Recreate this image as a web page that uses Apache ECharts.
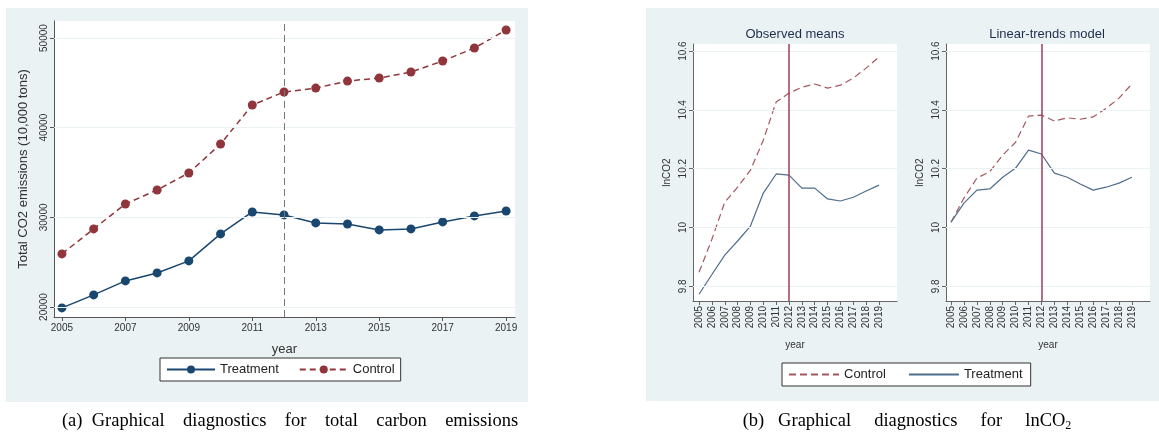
<!DOCTYPE html>
<html>
<head>
<meta charset="utf-8">
<script src="https://cdn.jsdelivr.net/npm/echarts@6/dist/echarts.min.js"></script>
<style>
html,body{margin:0;padding:0;background:#fff;}
#chart{width:1159px;height:432px;}
</style>
</head>
<body>
<div id="chart"></div>
<script>
// ---- data ----
const years = [2005,2006,2007,2008,2009,2010,2011,2012,2013,2014,2015,2016,2017,2018,2019];
const leftXTicks = [2005,2007,2009,2011,2013,2015,2017,2019];
const leftYTicks = [20000,30000,40000,50000];
const rightYTicks = [9.8,10,10.2,10.4,10.6];
const treatYear = 2012;

const totalTreatment = [19900,21350,22910,23800,25140,28150,30600,30270,29380,29260,28600,28710,29490,30160,30710];
const totalControl   = [25920,28710,31490,33055,34950,38180,42530,43980,44420,45200,45540,46210,47440,48890,50890];

const obsControl   = [9.848,9.960,10.086,10.137,10.195,10.297,10.427,10.457,10.477,10.488,10.474,10.484,10.508,10.542,10.580];
const obsTreatment = [9.773,9.840,9.906,9.954,10.005,10.117,10.182,10.178,10.134,10.134,10.097,10.090,10.103,10.124,10.144];

const ltControl    = [10.018,10.100,10.168,10.190,10.246,10.290,10.379,10.382,10.362,10.373,10.368,10.376,10.405,10.440,10.488];
const ltTreatment  = [10.018,10.083,10.127,10.131,10.171,10.202,10.263,10.250,10.185,10.171,10.148,10.127,10.137,10.151,10.171];

const pair = arr => years.map((y,i)=>[y,arr[i]]);
const plain = v => String(v);

const BG = '#eaf2f3';
const NAVY = '#1a476f';
const MAROON = '#90353b';
const LCTRL = '#a3585e';
const LTREAT = '#4f6d8c';
const VLINE = '#a33c58';
const FONT = 'Liberation Sans, Arial, sans-serif';
const SERIF = '"Liberation Serif", "Times New Roman", serif';

const chart = echarts.init(document.getElementById('chart'), null, {renderer:'canvas'});

function gridLines(ticks){
  return {
    silent:true, symbol:'none', animation:false,
    label:{show:false},
    lineStyle:{color:BG, type:'solid', width:1},
    data: ticks.map(v=>({yAxis:v}))
  };
}

function rightYAxis(gridIndex){
  return {
    type:'value', gridIndex, min:9.75, max:10.624,
    axisLine:{show:true, lineStyle:{color:'#666', width:1}},
    axisTick:{show:true, length:4, lineStyle:{color:'#666'}, customValues:rightYTicks},
    axisLabel:{show:true, rotate:90, fontSize:10, color:'#333', margin:5, fontFamily:FONT, customValues:rightYTicks, formatter:plain},
    splitLine:{show:false},
    name:'lnCO2', nameLocation:'middle', nameGap:21, nameRotate:90,
    nameTextStyle:{fontSize:10, color:'#333', fontFamily:FONT}
  };
}
function rightXAxis(gridIndex, min){
  return {
    type:'value', gridIndex, min:min, max:2020.4,
    axisLine:{show:true, onZero:false, lineStyle:{color:'#666', width:1}},
    axisTick:{show:true, length:4, lineStyle:{color:'#666'}, customValues:years},
    axisLabel:{show:true, rotate:90, fontSize:10, color:'#333', margin:5, fontFamily:FONT, customValues:years, formatter:plain},
    splitLine:{show:false},
    name:'year', nameLocation:'middle', nameGap:39,
    nameTextStyle:{fontSize:10, color:'#333', fontFamily:FONT}
  };
}

const option = {
  animation:false,
  backgroundColor:'#fff',
  graphic:[
    {type:'rect', z:-10, shape:{x:6,y:8,width:522,height:394}, style:{fill:BG}},
    {type:'rect', z:-10, shape:{x:646,y:8,width:513,height:393}, style:{fill:BG}},
    {type:'text', x:290, y:421, style:{text:'(a)  Graphical    diagnostics    for    total    carbon    emissions', font:'18.5px '+SERIF, fill:'#000', textAlign:'center', textVerticalAlign:'middle'}},
    {type:'text', x:907, y:421, style:{
      text:'(b)   Graphical     diagnostics     for     lnCO{s|2}',
      font:'18.5px '+SERIF, fill:'#000', align:'center', verticalAlign:'middle',
      rich:{s:{fontSize:12, fontFamily:'Liberation Serif', padding:[10,0,0,0], fill:'#000'}}
    }},
    {type:'text', x:795, y:34, style:{text:'Observed means', font:'13px '+FONT, fill:'#1e2d4e', textAlign:'center', textVerticalAlign:'middle'}},
    {type:'text', x:1047, y:34, style:{text:'Linear-trends model', font:'13px '+FONT, fill:'#1e2d4e', textAlign:'center', textVerticalAlign:'middle'}}
  ],
  legend:[
    {
      left:160, top:358, width:250,
      data:['Treatment','Control'],
      backgroundColor:'#fff', borderColor:'#333', borderWidth:1, borderRadius:0,
      padding:[5,6,5,6], itemWidth:48, itemHeight:10, itemGap:20,
      textStyle:{fontSize:13, color:'#222', fontFamily:FONT},
      selectedMode:false
    },
    {
      left:782, top:363, width:250,
      data:['Control (ln)','Treatment (ln)'],
      formatter: n => n.replace(' (ln)',''),
      backgroundColor:'#fff', borderColor:'#333', borderWidth:1, borderRadius:0,
      padding:[5,8,5,6], itemWidth:50, itemHeight:10, itemGap:22,
      itemStyle:{opacity:0},
      textStyle:{fontSize:13, color:'#222', fontFamily:FONT},
      selectedMode:false
    }
  ],
  grid:[
    {left:54, top:21, width:461, height:296, show:true, backgroundColor:'#fff', borderWidth:0},
    {left:693, top:44, width:204, height:257, show:true, backgroundColor:'#fff', borderWidth:0},
    {left:946, top:44, width:204, height:257, show:true, backgroundColor:'#fff', borderWidth:0}
  ],
  xAxis:[
    {
      type:'value', gridIndex:0, min:2004.75, max:2019.28,
      axisLine:{show:true, onZero:false, lineStyle:{color:'#555', width:1}},
      axisTick:{show:true, length:4, lineStyle:{color:'#555'}, customValues:leftXTicks},
      axisLabel:{show:true, fontSize:10, color:'#333', margin:6, fontFamily:FONT, customValues:leftXTicks, formatter:plain},
      splitLine:{show:false},
      name:'year', nameLocation:'middle', nameGap:26,
      nameTextStyle:{fontSize:13, color:'#333', fontFamily:FONT}
    },
    rightXAxis(1, 2004.53),
    rightXAxis(2, 2004.61)
  ],
  yAxis:[
    {
      type:'value', gridIndex:0, min:18885, max:51900,
      axisLine:{show:true, lineStyle:{color:'#555', width:1}},
      axisTick:{show:true, length:4, lineStyle:{color:'#555'}, customValues:leftYTicks},
      axisLabel:{show:true, rotate:90, fontSize:10, color:'#333', margin:5, fontFamily:FONT, customValues:leftYTicks, formatter:plain},
      splitLine:{show:false},
      name:'Total CO2 emissions (10,000 tons)', nameLocation:'middle', nameGap:24, nameRotate:90,
      nameTextStyle:{fontSize:13, color:'#333', fontFamily:FONT}
    },
    rightYAxis(1),
    rightYAxis(2)
  ],
  series:[
    {
      name:'Treatment', type:'line', xAxisIndex:0, yAxisIndex:0, data:pair(totalTreatment),
      symbol:'circle', symbolSize:9, itemStyle:{color:NAVY},
      lineStyle:{color:NAVY, width:1.5}, z:3,
      markLine:gridLines(leftYTicks)
    },
    {
      name:'Control', type:'line', xAxisIndex:0, yAxisIndex:0, data:pair(totalControl),
      symbol:'circle', symbolSize:9, itemStyle:{color:MAROON},
      lineStyle:{color:MAROON, width:1.5, type:[6,4]}, z:3,
      markLine:{
        silent:true, symbol:'none', label:{show:false},
        lineStyle:{color:'#777', type:[7,4], width:1},
        data:[{xAxis:treatYear}]
      }
    },
    {
      name:'Control (ln)', type:'line', xAxisIndex:1, yAxisIndex:1, data:pair(obsControl),
      symbol:'none', lineStyle:{color:LCTRL, width:1.2, type:[7,4]}, itemStyle:{color:LCTRL},
      markLine:gridLines(rightYTicks)
    },
    {
      name:'Treatment (ln)', type:'line', xAxisIndex:1, yAxisIndex:1, data:pair(obsTreatment),
      symbol:'none', lineStyle:{color:LTREAT, width:1.2}, itemStyle:{color:LTREAT},
      markLine:{silent:true, symbol:'none', label:{show:false}, lineStyle:{color:VLINE, type:'solid', width:1.5}, data:[{xAxis:treatYear}]}
    },
    {
      name:'Control (ln)', type:'line', xAxisIndex:2, yAxisIndex:2, data:pair(ltControl),
      symbol:'none', lineStyle:{color:LCTRL, width:1.2, type:[7,4]}, itemStyle:{color:LCTRL},
      markLine:gridLines(rightYTicks)
    },
    {
      name:'Treatment (ln)', type:'line', xAxisIndex:2, yAxisIndex:2, data:pair(ltTreatment),
      symbol:'none', lineStyle:{color:LTREAT, width:1.2}, itemStyle:{color:LTREAT},
      markLine:{silent:true, symbol:'none', label:{show:false}, lineStyle:{color:VLINE, type:'solid', width:1.5}, data:[{xAxis:treatYear}]}
    }
  ]
};
chart.setOption(option);
</script>
</body>
</html>
